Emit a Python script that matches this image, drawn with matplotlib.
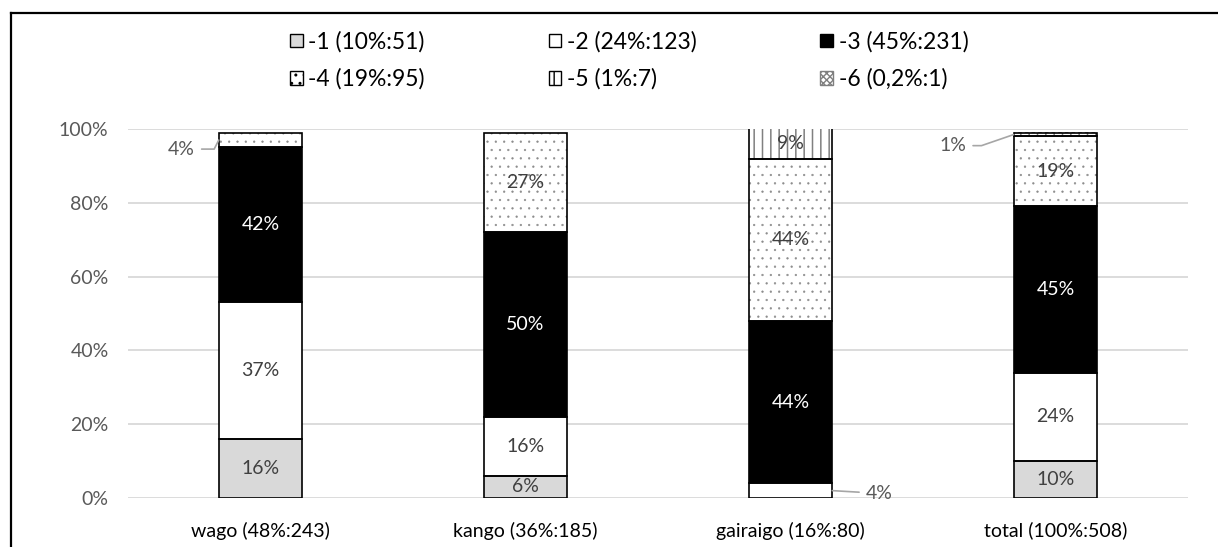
import matplotlib
matplotlib.use('Agg')
import matplotlib.pyplot as plt
from matplotlib.patches import Patch
from matplotlib.lines import Line2D
import numpy as np

# ---- data ----
categories = ['wago (48%:243)', 'kango (36%:185)', 'gairaigo (16%:80)', 'total (100%:508)']
series_names = ['-1 (10%:51)', '-2 (24%:123)', '-3 (45%:231)',
                '-4 (19%:95)', '-5 (1%:7)', '-6 (0,2%:1)']
s1 = [16, 6, 0, 10]
s2 = [37, 16, 4, 24]
s3 = [42, 50, 44, 45]
s4 = [4, 27, 44, 19]
s5 = [0, 0, 9, 1]
s6 = [0, 0, 0, 0.2]
yticks = [0, 20, 40, 60, 80, 100]

series = [s1, s2, s3, s4, s5, s6]

# ---- styles ----
plt.rcParams['font.family'] = ['Lato', 'DejaVu Sans']
faces = ['#D9D9D9', 'white', 'black', 'white', 'white', 'white']
hatches = [None, None, None, '..', '||', 'xxxxx']
hatch_cols = ['#D9D9D9', 'white', 'black', '#8C8C8C', '#808080', '#7F7F7F']
hatch_lw = [1.0, 1.0, 1.0, 0.4, 1.1, 1.0]
label_cols = ['#404040', '#404040', 'white', '#404040', '#404040', '#404040']
edge_black = [True, True, True, True, True, False]
FS = 14

fig = plt.figure(figsize=(12.18, 5.47), dpi=100)
W, H = 1218, 547
ax_left, ax_right = 128 / W, 1188 / W
ax_bot, ax_top = 1 - 498 / H, 1 - 129 / H
ax = fig.add_axes([ax_left, ax_bot, ax_right - ax_left, ax_top - ax_bot])

x = np.arange(len(categories))
bw = 0.315
bottom = np.zeros(len(categories))
for k, vals in enumerate(series):
    vals = np.array(vals, dtype=float)
    with plt.rc_context({'hatch.linewidth': hatch_lw[k]}):
        ax.bar(x, vals, bw, bottom=bottom, color=faces[k], hatch=hatches[k],
               edgecolor=hatch_cols[k], linewidth=0, zorder=3)
    if edge_black[k]:
        mask = vals > 0
        ax.bar(x[mask], vals[mask], bw, bottom=bottom[mask], fill=False,
               edgecolor='black', linewidth=1.2, zorder=4)
    bottom = bottom + vals

# ---- data labels ----
outside = {(0, 3): (-27, -6.5, 63), (2, 1): (34, -2, 0), (3, 4): (-44, -8, 19)}
bottom = np.zeros(len(categories))
for k, vals in enumerate(series):
    for i, v in enumerate(vals):
        if v <= 0:
            continue
        lo = bottom[i]
        hi = min(lo + v, 100)
        mid = (lo + hi) / 2
        txt = '%d%%' % round(v)
        if (i, k) in outside:
            dx, dy, ang = outside[(i, k)]
            px = x[i] - bw / 2 if dx < 0 else x[i] + bw / 2
            ax.annotate(txt, xy=(px, mid), xytext=(dx, dy), textcoords='offset points',
                        ha='center', va='center', fontsize=FS, color='#595959', zorder=6,
                        arrowprops=dict(arrowstyle='-', color='#A6A6A6', lw=1.2,
                                        shrinkA=3, shrinkB=0,
                                        connectionstyle='angle,angleA=0,angleB=%g,rad=0' % ang
                                        if ang else 'arc3'))
        elif v >= 5:
            ax.text(x[i], mid, txt, ha='center', va='center', fontsize=FS,
                    color=label_cols[k], zorder=6)
    bottom = bottom + np.array(vals, dtype=float)

# ---- axes ----
ax.set_xlim(-0.5, len(categories) - 0.5)
ax.set_ylim(0, 100)
ax.set_yticks(yticks)
ax.set_yticklabels(['%d%%' % t for t in yticks])
ax.set_xticks(x)
ax.set_xticklabels(categories)
ax.tick_params(axis='y', length=0, pad=14, labelsize=FS, labelcolor='#595959')
ax.tick_params(axis='x', length=0, pad=17, labelsize=FS, labelcolor='black')
ax.grid(axis='y', color='#D9D9D9', linewidth=1.3, zorder=0)
ax.set_axisbelow(True)
for sp in ax.spines.values():
    sp.set_visible(False)

# ---- legend (row-major order in 3 columns) ----
handles = []
for k in range(6):
    with plt.rc_context({'hatch.linewidth': hatch_lw[k]}):
        handles.append(Patch(facecolor=faces[k], hatch=hatches[k],
                             edgecolor='black' if edge_black[k] else hatch_cols[k],
                             linewidth=1.0))
order = [0, 3, 1, 4, 2, 5]
leg = fig.legend([handles[i] for i in order], [series_names[i] for i in order],
                 ncol=3, loc='upper left', bbox_to_anchor=(290 / W, 1 - 31 / H),
                 frameon=False, fontsize=16.5, handlelength=0.55, handleheight=0.55,
                 handletextpad=0.25, columnspacing=5.4, labelspacing=0.7,
                 borderpad=0, borderaxespad=0)

# ---- outer frame (left and top edges) ----
fig.add_artist(Line2D([11 / W, 11 / W], [0, 1 - 13 / H], color='black', lw=1.6,
                      transform=fig.transFigure))
fig.add_artist(Line2D([11 / W, 1], [1 - 13 / H, 1 - 13 / H], color='black', lw=1.6,
                      transform=fig.transFigure))

fig.savefig('out.png', dpi=100)
